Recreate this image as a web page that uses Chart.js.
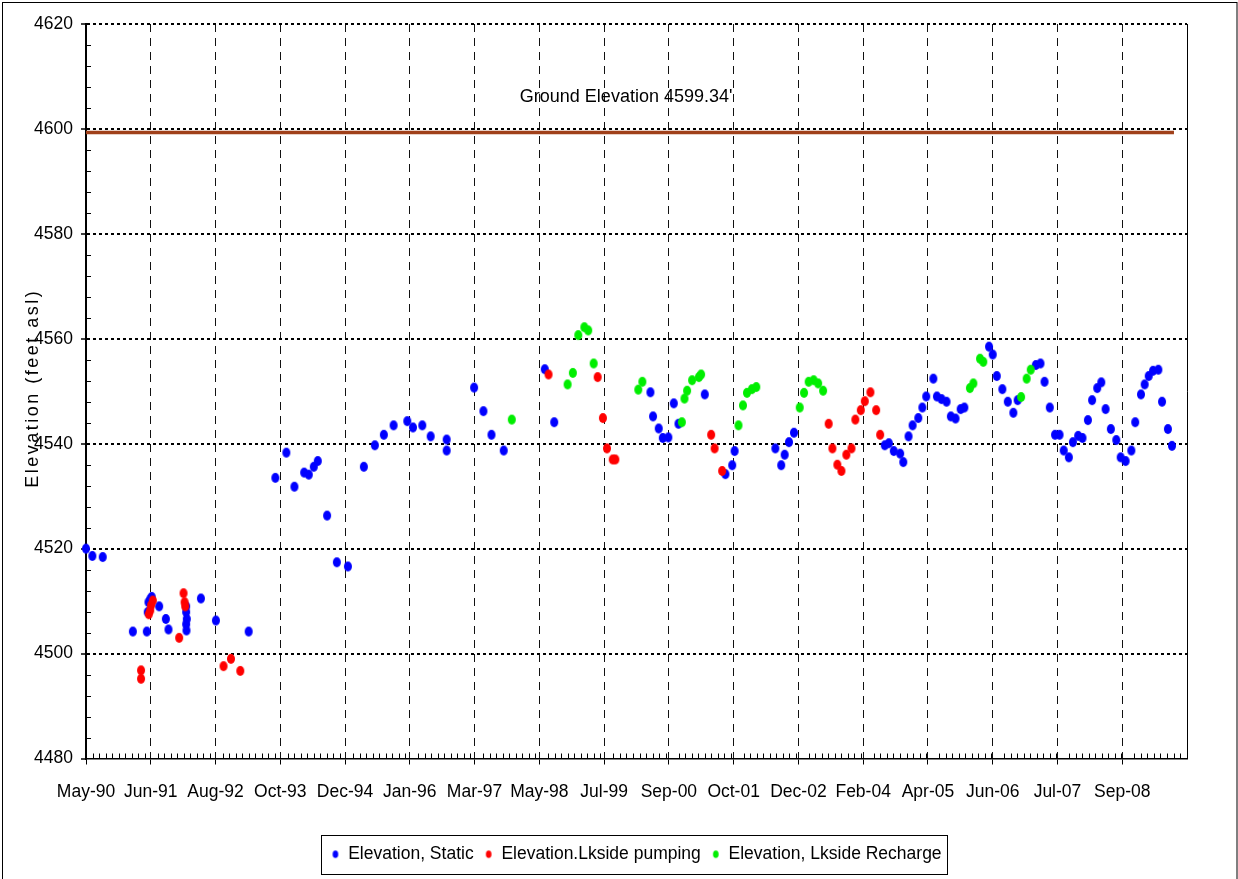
<!DOCTYPE html>
<html>
<head>
<meta charset="utf-8">
<script src="https://cdn.jsdelivr.net/npm/chart.js@4.4.1/dist/chart.umd.min.js"></script>
<style>
html,body{margin:0;padding:0;background:#fff;}
#wrap{width:1238px;height:879px;position:relative;}
</style>
</head>
<body>
<div id="wrap"><canvas id="c"></canvas></div>
<script>
// ---- tick labels (major unit 420 days, starting 1 May 1990) ----
const xTickLabels = ['May-90','Jun-91','Aug-92','Oct-93','Dec-94','Jan-96','Mar-97','May-98','Jul-99',
  'Sep-00','Oct-01','Dec-02','Feb-04','Apr-05','Jun-06','Jul-07','Sep-08'];
const yTickValues = [4480, 4500, 4520, 4540, 4560, 4580, 4600, 4620];

// ---- series: x = days after 1 May 1990, y = elevation (feet asl) ----
const staticDays = [0,41,108,302,392,398,403,415,424,472,515,532,646,646,650,646,648,741,838,1049,
  1221,1292,1344,1407,1437,1469,1495,1555,1618,1689,1792,1863,1921,1984,2072,2109,2169,2223,2326,2326,
  2503,2563,2615,2694,2959,3020,3640,3657,3694,3720,3756,3791,3821,3991,4124,4168,4183,
  4446,4484,4506,4534,4566,5152,5178,5210,5251,5271,5305,5331,5368,5394,5419,5465,5488,5518,5550,5578,
  5608,5641,5665,5824,5848,5874,5910,5945,5981,6009,6126,6156,6182,6216,6250,6279,6306,6339,6365,6399,
  6427,6462,6489,6522,6548,6576,6610,6645,6673,6705,6742,6767,6804,6828,6854,6882,6916,6940,6978,7004];
const staticElev = [4520.0,4518.6,4518.4,4504.2,4504.2,4507.9,4509.8,4510.4,4510.8,4509.0,4506.6,4504.6,4509.0,4507.9,4506.6,4505.6,4504.4,4510.5,4506.3,4504.2,
  4533.5,4538.3,4531.8,4534.5,4534.1,4535.6,4536.7,4526.3,4517.4,4516.6,4535.6,4539.7,4541.7,4543.5,4544.3,4543.1,4543.5,4541.4,4540.8,4538.7,
  4550.7,4546.2,4541.7,4538.7,4554.2,4544.1,4549.8,4545.2,4542.9,4541.1,4541.2,4547.7,4543.8,4549.4,4534.2,4535.9,4538.6,
  4539.1,4535.9,4537.9,4540.3,4542.1,4539.7,4540.1,4538.6,4538.1,4536.5,4541.4,4543.5,4544.9,4546.9,4549.0,4552.4,4549.0,4548.5,4548.0,4545.2,
  4544.8,4546.6,4546.9,4558.5,4557.0,4552.9,4550.4,4548.0,4545.9,4548.3,4555.0,4555.3,4551.8,4546.9,4541.7,4541.7,4538.7,4537.4,4540.3,4541.5,
  4541.1,4544.5,4548.3,4550.6,4551.7,4546.6,4542.8,4540.7,4537.4,4536.7,4538.7,4544.1,4549.4,4551.3,4552.9,4553.9,4554.1,4548.0,4542.8,4539.6];

const pumpingDays = [355,355,405,414,420,431,601,629,636,640,887,935,995,2983,3300,3334,3360,3397,3414,
  4032,4054,4103,4790,4814,4846,4872,4904,4937,4962,4997,5023,5059,5096,5122];
const pumpingElev = [4496.8,4495.2,4507.5,4508.2,4509.2,4510.1,4503.0,4511.5,4509.8,4509.0,4497.6,4499.0,4496.7,4553.2,4552.7,4544.9,4539.1,4537.0,4537.0,
  4541.7,4539.1,4534.8,4543.8,4539.1,4536.0,4534.8,4537.9,4539.1,4544.6,4546.4,4548.1,4549.8,4546.4,4541.7];

const rechargeDays = [2746,3106,3140,3175,3214,3239,3274,3562,3588,3843,3860,3877,3909,3953,3967,
  4208,4237,4263,4295,4323,4603,4631,4661,4693,4722,4754,5701,5723,5766,5787,6031,6067,6093];
const rechargeElev = [4544.6,4551.3,4553.5,4560.7,4562.2,4561.6,4555.3,4550.3,4551.8,4544.1,4548.6,4550.1,4552.1,4552.7,4553.2,
  4543.5,4547.3,4549.7,4550.4,4550.8,4546.9,4549.7,4551.8,4552.1,4551.5,4550.1,4550.6,4551.5,4556.2,4555.6,4548.9,4552.4,4554.1];

const groundElevation = 4599.34;
const groundDays = [0, 7017];
const seriesNames = ['Elevation, Static', 'Elevation.Lkside pumping', 'Elevation, Lkside Recharge'];
const groundLabel = "Ground Elevation 4599.34'";
const yTitle = 'Elevation (feet asl)';

// ---- helpers ----
const toXY = (xs, ys) => xs.map((x, i) => ({x: x, y: ys[i]}));
function ellipseMarker(color, rx, ry) {
  const c = document.createElement('canvas');
  c.width = Math.ceil(rx * 2) + 2; c.height = Math.ceil(ry * 2) + 2;
  const g = c.getContext('2d');
  g.fillStyle = color; g.beginPath();
  g.ellipse(c.width / 2, c.height / 2, rx, ry, 0, 0, Math.PI * 2); g.fill();
  return c;
}
const colors = ['#0000FF', '#FF0000', '#00EE00'];
const plotMarkers = colors.map(c => ellipseMarker(c, 4, 5));
const legendMarkers = colors.map(c => ellipseMarker(c, 2.8, 3.8));
const FONT = '"Liberation Sans", Arial, sans-serif';
const STEP = 420;

const chartDecor = {
  id: 'chartDecor',
  afterLayout(chart) {
    const l = chart.legend, ca = chart.chartArea;
    const d = (ca.left + ca.right) / 2 - (l.left + l.right) / 2;
    l.left += d; l.right += d;
  },
  beforeDraw(chart) {
    const ctx = chart.ctx;
    ctx.save();
    ctx.strokeStyle = '#000'; ctx.lineWidth = 1;
    ctx.strokeRect(2.5, 2.5, chart.width - 3.5, chart.height + 10);
    ctx.restore();
  },
  afterDraw(chart) {
    const ctx = chart.ctx, ca = chart.chartArea;
    const xs = chart.scales.x, ys = chart.scales.y;
    ctx.save();
    ctx.strokeStyle = '#000'; ctx.lineWidth = 1;
    ctx.beginPath();
    for (let v = ys.min; v <= ys.max; v += 4) {
      if (Math.abs(v % 20) < 1e-6) continue;
      const p = Math.round(ys.getPixelForValue(v)) + 0.5;
      ctx.moveTo(ca.left, p); ctx.lineTo(ca.left + 5, p);
    }
    for (let v = 0; v <= xs.max; v += STEP / 10) {
      if (Math.abs(v % STEP) < 1e-6) continue;
      const p = Math.round(xs.getPixelForValue(v)) + 0.5;
      ctx.moveTo(p, ca.bottom); ctx.lineTo(p, ca.bottom - 5);
    }
    ctx.moveTo(Math.round(ca.right) + 0.5, ca.top); ctx.lineTo(Math.round(ca.right) + 0.5, ca.bottom);
    ctx.stroke();

    ctx.fillStyle = '#000';
    ctx.font = '18px ' + FONT;
    ctx.textBaseline = 'middle'; ctx.textAlign = 'left';
    ctx.fillText(groundLabel, xs.getPixelForValue(2798), ys.getPixelForValue(4606));

    ctx.translate(33, (ca.top + ca.bottom) / 2 - 3);
    ctx.rotate(-Math.PI / 2);
    ctx.textAlign = 'center';
    ctx.font = '18px ' + FONT;
    try { ctx.letterSpacing = '2.5px'; } catch (e) {}
    ctx.fillText(yTitle, 0, 0);
    try { ctx.letterSpacing = '0px'; } catch (e) {}
    ctx.restore();

    const hb = chart.legend.legendHitBoxes;
    if (hb && hb.length) {
      const xsL = hb.map(h => h.left), xeL = hb.map(h => h.left + h.width);
      const x0 = Math.min(...xsL) - 10, x1 = Math.max(...xeL) + 6;
      const y0 = hb[0].top - 11, y1 = hb[0].top + hb[0].height + 10;
      ctx.save();
      ctx.strokeStyle = '#000'; ctx.lineWidth = 1;
      ctx.strokeRect(Math.round(x0) + 0.5, Math.round(y0) + 0.5, Math.round(x1 - x0), Math.round(y1 - y0));
      ctx.restore();
    }
  }
};

new Chart(document.getElementById('c'), {
  type: 'scatter',
  data: {
    datasets: [
      { label: seriesNames[0], data: toXY(staticDays, staticElev), pointStyle: plotMarkers[0],
        backgroundColor: colors[0], borderColor: colors[0], order: 3, clip: false },
      { label: seriesNames[1], data: toXY(pumpingDays, pumpingElev), pointStyle: plotMarkers[1],
        backgroundColor: colors[1], borderColor: colors[1], order: 2, clip: false },
      { label: seriesNames[2], data: toXY(rechargeDays, rechargeElev), pointStyle: plotMarkers[2],
        backgroundColor: colors[2], borderColor: colors[2], order: 1, clip: false },
      { label: 'Ground', data: groundDays.map(d => ({x: d, y: groundElevation})), showLine: true,
        borderColor: '#A0401A', borderWidth: 3.5, pointRadius: 0, order: 4, clip: false }
    ]
  },
  options: {
    responsive: true,
    maintainAspectRatio: false,
    animation: false,
    events: [],
    layout: { padding: { top: 24, right: 51, bottom: 6, left: 0 } },
    plugins: {
      tooltip: { enabled: false },
      legend: {
        position: 'bottom',
        labels: {
          usePointStyle: true,
          pointStyleWidth: 8,
          padding: 11,
          color: '#000',
          font: { family: FONT, size: 17.5 },
          filter: (item) => item.datasetIndex < 3,
          sort: (a, b) => a.datasetIndex - b.datasetIndex,
          generateLabels: (chart) => {
            const items = Chart.defaults.plugins.legend.labels.generateLabels(chart);
            items.forEach(it => { if (it.datasetIndex < 3) it.pointStyle = legendMarkers[it.datasetIndex]; });
            return items;
          }
        }
      }
    },
    scales: {
      x: {
        type: 'linear',
        min: 0, max: 7101,
        afterFit: (s) => { s.height = 76; },
        ticks: {
          stepSize: STEP, includeBounds: false, autoSkip: false, maxRotation: 0, minRotation: 0,
          padding: 17, color: '#000',
          font: { family: FONT, size: 17.5 },
          callback: (v) => xTickLabels[Math.round(v / STEP)]
        },
        grid: {
          color: (c) => (c.tick && c.tick.value === 0) ? 'rgba(0,0,0,0)' : '#111',
          lineWidth: 1, tickLength: 6, tickColor: '#000', tickWidth: 1
        },
        border: { display: true, color: '#000', width: 1.5, dash: [8, 6] }
      },
      y: {
        type: 'linear',
        min: yTickValues[0], max: yTickValues[yTickValues.length - 1],
        afterFit: (s) => { s.width = 86; },
        afterBuildTicks: (s) => { s.ticks = yTickValues.map(v => ({value: v})); },
        ticks: {
          stepSize: 20, padding: 8, color: '#000',
          font: { family: FONT, size: 17.5 },
          callback: (v) => String(v)
        },
        grid: {
          color: (c) => (c.tick && c.tick.value === yTickValues[0]) ? 'rgba(0,0,0,0)' : '#000',
          lineWidth: 2, tickLength: 5, tickColor: '#000', tickWidth: 1.5
        },
        border: { display: true, color: '#000', width: 2, dash: [3, 3] }
      }
    }
  },
  plugins: [chartDecor]
});
</script>
</body>
</html>
